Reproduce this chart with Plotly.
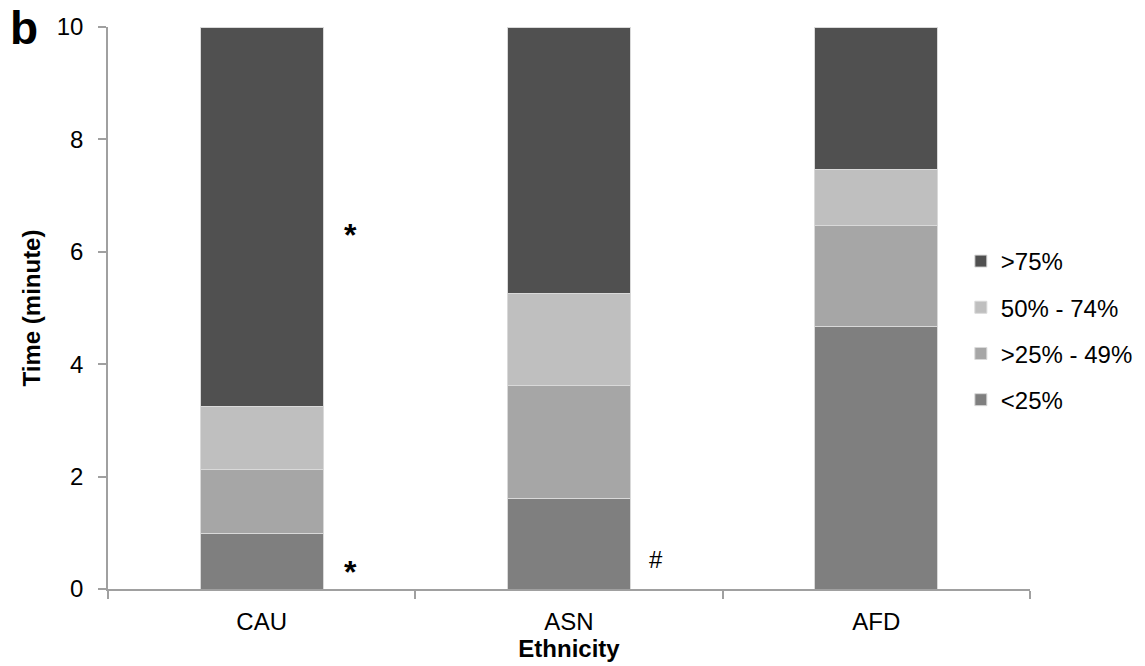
import plotly.graph_objects as go

categories = ["CAU", "ASN", "AFD"]
lt25 = [0.99, 1.61, 4.67]
p25_49 = [1.13, 2.01, 1.79]
p50_74 = [1.13, 1.63, 1.01]
gt75 = [6.75, 4.75, 2.53]

series_names = ["<25%", ">25% - 49%", "50% - 74%", ">75%"]
series_values = [lt25, p25_49, p50_74, gt75]
series_colors = ["#7f7f7f", "#a6a6a6", "#bfbfbf", "#505050"]

y_ticks = [0, 2, 4, 6, 8, 10]

FONT = "Liberation Sans, Arial, sans-serif"

fig = go.Figure()
n = len(series_names)
for i, (name, vals, col) in enumerate(zip(series_names, series_values, series_colors)):
    fig.add_trace(go.Bar(
        x=categories, y=vals, name=name, legendgroup=name, legendrank=n - i,
        marker=dict(color=col, line=dict(color="#d9d9d9", width=1)),
    ))

fig.update_layout(
    barmode="stack",
    bargap=0.6,
    width=1145, height=666,
    margin=dict(l=108, r=115, t=27, b=77, autoexpand=False),
    plot_bgcolor="white", paper_bgcolor="white",
    font=dict(family=FONT, size=24, color="black"),
    showlegend=True,
    legend=dict(
        x=0.925, xanchor="left", y=0.46, yanchor="middle",
        traceorder="grouped", tracegroupgap=12,
        itemwidth=30, font=dict(size=24),
        bgcolor="rgba(0,0,0,0)",
    ),
    xaxis=dict(
        showline=True, linecolor="#a0a0a0", linewidth=1.5,
        ticks="outside", tickson="boundaries", ticklen=8, tickcolor="#a0a0a0", tickwidth=1.5,
        ticklabelstandoff=10,
        title=dict(text="<b>Ethnicity</b>", standoff=7, font=dict(size=24)),
        showgrid=False, zeroline=False,
    ),
    yaxis=dict(
        range=[0, 10], tickvals=y_ticks,
        showline=True, linecolor="#a0a0a0", linewidth=1.5,
        ticks="outside", ticklen=8, tickcolor="#a0a0a0", tickwidth=1.5,
        ticklabelstandoff=10,
        title=dict(text="<b>Time (minute)</b>", standoff=9, font=dict(size=24)),
        showgrid=False, zeroline=False,
    ),
)

fig.add_annotation(text="<b>b</b>", xref="paper", yref="paper", x=-0.108, y=1.048,
                   xanchor="left", yanchor="top", showarrow=False, font=dict(size=46))
fig.add_annotation(text="<b>*</b>", xref="x", yref="y", x=0.29, y=6.3, showarrow=False,
                   font=dict(size=32))
fig.add_annotation(text="<b>*</b>", xref="x", yref="y", x=0.29, y=0.3, showarrow=False,
                   font=dict(size=32))
fig.add_annotation(text="#", xref="x", yref="y", x=1.283, y=0.52, showarrow=False,
                   font=dict(size=24))

fig.write_html("out.html")
